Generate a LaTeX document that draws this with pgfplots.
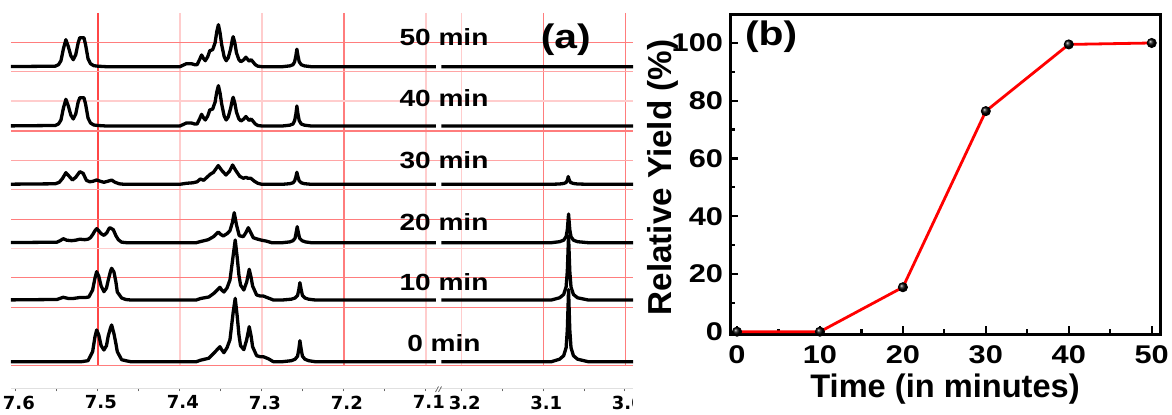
\documentclass[border=0pt]{standalone}
\usepackage{pgfplots}
\pgfplotsset{compat=1.18}
\usepackage{pgfplotstable}
\usepackage{fontspec}
\setmainfont{Liberation Sans}
\newfontfamily\bfs{Liberation Sans}[FakeStretch=1.2]
\newfontfamily\dv{DejaVu Sans}

\pgfplotstableread{
x y
7.620 0
7.552 0.5
7.548 2
7.545 6
7.542 18
7.539 27
7.536 20
7.533 11
7.530 7
7.527 12
7.524 24
7.522 29
7.517 29
7.515 22
7.512 8
7.509 3
7.505 1
7.500 0.5
7.490 0
7.400 0
7.396 1.5
7.392 3
7.386 3
7.382 2
7.379 2
7.376 7
7.3735 11.7
7.371 8
7.369 6
7.366 10
7.3635 16
7.360 17
7.357 24
7.355 35
7.353 42
7.351 34
7.349 22
7.346 10
7.3435 6
7.341 9
7.338 18
7.336 27
7.335 30
7.333 24
7.331 14
7.328 7
7.3255 5
7.322 7
7.3195 9.5
7.317 7
7.3155 5.5
7.313 7
7.311 5
7.308 2
7.305 0.5
7.300 0
7.275 0
7.266 0.8
7.262 2
7.260 5
7.2585 11
7.2573 17.5
7.256 11
7.2545 5
7.252 2
7.248 0.8
7.240 0
7.070 0
3.240 0
2.980 0
}\sfifty

\pgfplotstableread{
x y
7.620 0
7.552 0.5
7.548 2
7.545 6
7.542 18
7.539 26.7
7.536 20
7.533 11
7.530 7
7.527 12
7.524 24
7.522 28.3
7.517 28.3
7.515 22
7.512 8
7.509 3
7.505 1
7.500 0.5
7.490 0
7.400 0
7.396 1.5
7.392 3
7.386 3
7.382 2
7.379 2
7.376 7
7.3735 11.7
7.371 8
7.369 6
7.366 10
7.3635 16
7.360 17
7.357 24
7.355 34
7.353 40.3
7.351 33
7.349 22
7.346 10
7.3435 6
7.341 9
7.338 18
7.336 26
7.335 28.7
7.333 23
7.331 14
7.328 7
7.3255 5
7.322 7
7.3195 9.5
7.317 7
7.3155 5.5
7.313 7
7.311 5
7.308 2
7.305 0.5
7.300 0
7.275 0
7.266 0.8
7.262 2
7.260 5.5
7.2585 12
7.2573 20
7.256 12
7.2545 5.5
7.252 2
7.248 0.8
7.240 0
7.070 0
3.240 0
2.980 0
}\sforty

\pgfplotstableread{
x y
7.620 0
7.552 0.5
7.547 2
7.543 6
7.539 11.6
7.535 8
7.531 4.3
7.527 7
7.522 12.6
7.518 11
7.514 4
7.510 2.5
7.506 3
7.5015 4.3
7.497 3
7.4926 2
7.488 3
7.4832 4.2
7.479 2
7.474 0.5
7.468 0
7.400 0
7.392 1
7.384 1.5
7.379 2.5
7.375 5.3
7.371 4
7.367 7
7.363 10
7.359 12
7.3532 18.7
7.349 14
7.3438 9.3
7.3395 13
7.3357 19.3
7.332 14
7.327 8
7.3225 6
7.3194 7
7.317 6
7.3135 6
7.309 3
7.305 1
7.300 0
7.275 0
7.266 0.6
7.262 1.5
7.260 3.5
7.2585 7.5
7.2573 12
7.256 7.5
7.2545 3.5
7.252 1.5
7.248 0.6
7.240 0
7.070 0
3.240 0
3.090 0
3.080 0.3
3.075 0.8
3.072 1.8
3.0705 4
3.0694 7.7
3.068 4
3.0665 1.8
3.063 0.8
3.058 0.3
3.045 0
2.980 0
}\sthirty

\pgfplotstableread{
x y
7.620 0
7.550 0.5
7.546 2
7.5422 4
7.538 2.5
7.532 2
7.527 2.5
7.522 3.5
7.516 3
7.512 3.5
7.509 5
7.5064 8
7.5035 12
7.5015 14
7.499 12
7.496 9
7.4926 7.3
7.489 10
7.4865 14
7.4853 15
7.4812 13
7.478 7
7.4751 3
7.471 0.5
7.465 0
7.380 0
7.3755 1
7.3654 3
7.359 6
7.3532 10.7
7.3505 8.5
7.3471 6.7
7.3425 9
7.3389 12
7.336 20
7.3337 30
7.331 18
7.3276 7
7.3227 6
7.3195 10
7.3166 15
7.3135 10
7.3105 5
7.305 3.5
7.3003 2.5
7.2942 1.5
7.288 0
7.275 0
7.266 0.8
7.262 2
7.2595 4.5
7.2582 10
7.2569 16
7.2555 10
7.254 4.5
7.251 2
7.247 0.8
7.240 0
7.070 0
3.240 0
3.090 0
3.080 1
3.075 2.5
3.072 6
3.0705 13
3.0690 28.7
3.0675 13
3.066 6
3.063 2.5
3.058 1
3.045 0
2.980 0
}\stwenty

\pgfplotstableread{
x y
7.620 0
7.550 0.5
7.5422 2.7
7.536 1.5
7.530 1.5
7.522 2.5
7.515 2.5
7.511 3
7.5064 10
7.5035 22
7.5015 28.3
7.499 24
7.496 14
7.4926 8.3
7.4895 12
7.4873 20
7.4845 29
7.4832 31.7
7.4804 28
7.478 18
7.4763 8
7.471 2
7.466 0.5
7.460 0
7.380 0
7.3747 1.5
7.3646 3
7.358 7
7.3512 12.7
7.349 10
7.3463 8
7.3425 12
7.3389 20
7.3349 45
7.3325 60
7.330 42
7.328 25
7.326 15
7.322 10
7.3185 18
7.3154 30.7
7.313 22
7.3113 14
7.3064 5
7.302 4
7.2983 4
7.2922 2
7.286 0
7.275 0
7.264 0.8
7.2595 2
7.2565 4.5
7.255 10
7.2536 17.3
7.252 10
7.2505 4.5
7.2475 2
7.243 0.8
7.235 0
7.070 0
3.240 0
3.090 0
3.080 2.2
3.075 5.5
3.072 13
3.0705 29
3.0690 64
3.0675 29
3.066 13
3.063 5.5
3.058 2.2
3.045 0
2.980 0
}\sten

\pgfplotstableread{
x y
7.620 0
7.520 0
7.512 1
7.5064 10
7.5035 25
7.5015 31.7
7.499 27
7.496 16
7.4926 11.7
7.4895 16
7.4873 26
7.4845 34
7.4832 36.7
7.4804 28
7.478 18
7.4763 10
7.471 2
7.466 1
7.460 0
7.380 0
7.3747 1.5
7.3646 3.5
7.358 9
7.3512 15
7.349 12
7.3463 9
7.3425 14
7.3389 22
7.3349 50
7.3325 63.3
7.330 45
7.328 27
7.326 16
7.322 12
7.3185 22
7.3154 35
7.313 25
7.3113 15
7.3064 6
7.302 5
7.2983 5
7.2922 3
7.286 0
7.275 0
7.264 1
7.2595 2.5
7.2565 5.5
7.255 12
7.2536 21
7.252 12
7.2505 5.5
7.2475 2.5
7.243 1
7.235 0
7.070 0
3.240 0
3.090 0
3.080 2.5
3.075 6
3.072 14
3.0705 32
3.0690 72
3.0675 32
3.066 14
3.063 6
3.058 2.5
3.045 0
2.980 0
}\szero

\pgfplotstableread{
t yield
0 0
10 0
20 15.4
30 76.4
40 99.5
50 100
}\yieldtab

\definecolor{gridstrong}{RGB}{255,70,70}
\definecolor{gridmid}{RGB}{255,125,125}
\definecolor{gridsoft}{RGB}{255,165,165}
\definecolor{gridfaint}{RGB}{255,205,205}

\pgfplotsset{
  spec/.style={black, line width=1.65pt, line join=round},
  nmraxis/.style={
    anchor=south west, scale only axis, height=187.65pt,
    ymin=-26.6, ymax=348.7, x dir=reverse,
    axis x line*=bottom, axis y line=none,
    x axis line style={black!12, line width=0.6pt},
    tick align=outside, major tick length=1.6pt, minor tick length=1.6pt,
    tick style={black!60, line width=0.5pt},
    xticklabel style={font=\dv\bfseries\fontsize{9}{10}\selectfont, yshift=1.4pt, xshift=1.5pt},
    clip=true,
  },
}

\begin{document}
\begin{tikzpicture}
\path[use as bounding box] (0,0) rectangle (586pt,207.5pt);
\begin{scope}[x=0.5pt,y=-0.5pt,yshift=207.5pt]
  % vertical grid lines
  \draw[draw=gridstrong, line width=0.6pt] (97.9,13) -- (97.9,366);
  \draw[draw=gridfaint, line width=0.6pt] (179.9,13) -- (179.9,366);
  \draw[draw=gridfaint, line width=0.6pt] (261.9,13) -- (261.9,366);
  \draw[draw=gridmid, line width=0.6pt] (343.9,13) -- (343.9,366);
  \draw[draw=gridfaint, line width=0.6pt] (425.9,13) -- (425.9,366);
  \draw[draw=gridfaint, line width=0.6pt] (461.7,13) -- (461.7,366);
  \draw[draw=gridmid, line width=0.6pt] (543.3,13) -- (543.3,366);
  \draw[draw=gridmid, line width=0.6pt] (625.3,13) -- (625.3,366);
  % horizontal grid lines
  \draw[draw=gridmid, line width=0.6pt] (11,42.3) -- (633,42.3);
  \draw[draw=gridsoft, line width=0.6pt] (11,71.7) -- (633,71.7);
  \draw[draw=gridfaint, line width=0.6pt] (11,101) -- (633,101);
  \draw[draw=gridmid, line width=1pt] (11,130.7) -- (633,130.7);
  \draw[draw=gridsoft, line width=0.6pt] (11,160.3) -- (633,160.3);
  \draw[draw=gridsoft, line width=0.6pt] (11,189.3) -- (633,189.3);
  \draw[draw=gridmid, line width=0.6pt] (11,219.3) -- (633,219.3);
  \draw[draw=gridfaint, line width=0.6pt] (11,248.3) -- (633,248.3);
  \draw[draw=gridmid, line width=0.6pt] (11,277.7) -- (633,277.7);
  \draw[draw=gridmid, line width=0.6pt] (11,307.3) -- (633,307.3);
  \draw[draw=gridmid, line width=0.6pt] (11,365.7) -- (633,365.7);
\end{scope}

% left segment of the spectra
\begin{axis}[nmraxis, at={(5.5pt,13.35pt)}, width=212.5pt,
  xmin=7.0877, xmax=7.606,
  xtick={7.1,7.2,7.3,7.4,7.5,7.6}, xticklabels={7.1,7.2,7.3,7.4,7.5,7.6},
  minor xtick={7.15,7.25,7.35,7.45,7.55}]
  \addplot[spec] table[x=x, y expr=\thisrow{y}+0] {\szero};
  \addplot[spec] table[x=x, y expr=\thisrow{y}+61.7] {\sten};
  \addplot[spec] table[x=x, y expr=\thisrow{y}+119] {\stwenty};
  \addplot[spec] table[x=x, y expr=\thisrow{y}+177.4] {\sthirty};
  \addplot[spec] table[x=x, y expr=\thisrow{y}+235.7] {\sforty};
  \addplot[spec] table[x=x, y expr=\thisrow{y}+295] {\sfifty};
\end{axis}

% right segment of the spectra
\begin{axis}[nmraxis, at={(220.65pt,13.35pt)}, width=95.85pt,
  xmin=2.990, xmax=3.225,
  xtick={3.0,3.1,3.2}, xticklabels={3.0,3.1,3.2},
  minor xtick={3.05,3.15}]
  \addplot[spec] table[x=x, y expr=\thisrow{y}+0] {\szero};
  \addplot[spec] table[x=x, y expr=\thisrow{y}+61.7] {\sten};
  \addplot[spec] table[x=x, y expr=\thisrow{y}+119] {\stwenty};
  \addplot[spec] table[x=x, y expr=\thisrow{y}+177.4] {\sthirty};
  \addplot[spec] table[x=x, y expr=\thisrow{y}+235.7] {\sforty};
  \addplot[spec] table[x=x, y expr=\thisrow{y}+295] {\sfifty};
\end{axis}

\begin{scope}[x=0.5pt,y=-0.5pt,yshift=207.5pt]
  % axis break marks
  \draw[black!60, line width=0.4pt] (435.5,392) -- (438.5,386.5);
  \draw[black!60, line width=0.4pt] (438.5,392) -- (441.5,386.5);
  % cover the cut tick label as in the reference
  \fill[white] (633,394) rectangle (646,415);
  % spectrum labels
  \begin{scope}[every node/.style={font=\bfs\bfseries\fontsize{11.7}{12}\selectfont, inner sep=0pt}]
    \node at (444,36.7) {50 min};
    \node at (444,98.3) {40 min};
    \node at (444,160) {30 min};
    \node at (444,221.7) {20 min};
    \node at (444,281.7) {10 min};
    \node at (444,343.3) {0 min};
  \end{scope}
  \node[font=\bfs\bfseries\fontsize{17}{18}\selectfont, inner sep=0pt] at (565.7,39.3) {(a)};
\end{scope}

% panel (b)
\begin{axis}[at={(365pt,40.35pt)}, anchor=south west, scale only axis,
  width=215pt, height=160pt,
  xmin=-0.844, xmax=51.0, ymin=-0.9, ymax=109.94,
  axis line style={line width=1.5pt, line join=miter},
  xtick={0,10,20,30,40,50}, ytick={0,20,40,60,80,100},
  minor x tick num=1, minor y tick num=1,
  tick align=inside, xtick pos=bottom, ytick pos=left,
  major tick length=4pt, minor tick length=2.5pt,
  tick style={black, line width=1.1pt},
  /pgf/number format/assume math mode=true,
  ticklabel style={font=\bfs\bfseries\fontsize{12.8}{13}\selectfont},
  xticklabel style={yshift=-2pt},
  xlabel={Time (in minutes)}, ylabel={Relative Yield (\%)},
  xlabel style={font=\bfseries\fontsize{16.3}{17}\selectfont, at={(axis description cs:0.5,-0.199)}, anchor=base},
  ylabel style={font=\bfseries\fontsize{16.6}{17}\selectfont, at={(axis description cs:-0.1356,0.49)}, anchor=base},
  clip=false]
  \addplot[red, line width=1.4pt] table[x=t, y=yield] {\yieldtab};
  \addplot[black, only marks, mark=ball, mark size=2.3pt, mark options={ball color=black}] table[x=t, y=yield] {\yieldtab};
  \node[font=\bfs\bfseries\fontsize{17}{18}\selectfont, inner sep=0pt] at (axis description cs:0.0958,0.9297) {(b)};
\end{axis}
\end{tikzpicture}
\end{document}
